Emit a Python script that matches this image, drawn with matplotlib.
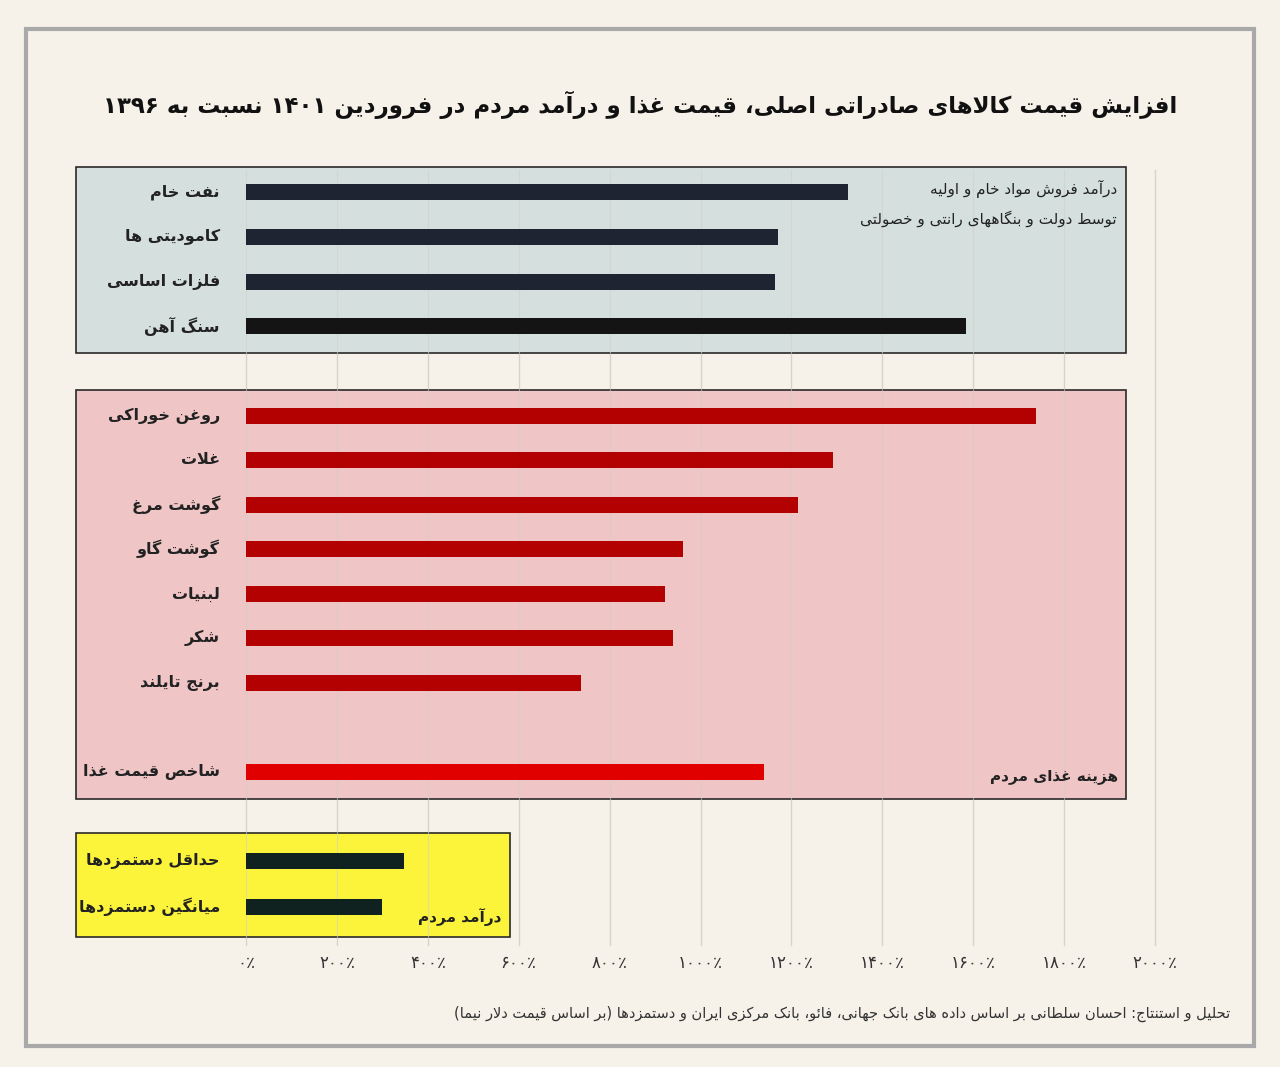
import matplotlib
matplotlib.use("Agg")
import matplotlib.pyplot as plt
from matplotlib.patches import Rectangle

# --- minimal Persian shaping (presentation forms + RTL order) ---
FORMS = {  # iso, fin, ini, med
    'ء': ('\uFE80', None, None, None),
    'آ': ('\uFE81', '\uFE82', None, None),
    'ا': ('\uFE8D', '\uFE8E', None, None),
    'ئ': ('\uFE89', '\uFE8A', '\uFE8B', '\uFE8C'),
    'ب': ('\uFE8F', '\uFE90', '\uFE91', '\uFE92'),
    'پ': ('\uFB56', '\uFB57', '\uFB58', '\uFB59'),
    'ت': ('\uFE95', '\uFE96', '\uFE97', '\uFE98'),
    'ث': ('\uFE99', '\uFE9A', '\uFE9B', '\uFE9C'),
    'ج': ('\uFE9D', '\uFE9E', '\uFE9F', '\uFEA0'),
    'چ': ('\uFB7A', '\uFB7B', '\uFB7C', '\uFB7D'),
    'ح': ('\uFEA1', '\uFEA2', '\uFEA3', '\uFEA4'),
    'خ': ('\uFEA5', '\uFEA6', '\uFEA7', '\uFEA8'),
    'د': ('\uFEA9', '\uFEAA', None, None),
    'ذ': ('\uFEAB', '\uFEAC', None, None),
    'ر': ('\uFEAD', '\uFEAE', None, None),
    'ز': ('\uFEAF', '\uFEB0', None, None),
    'ژ': ('\uFB8A', '\uFB8B', None, None),
    'س': ('\uFEB1', '\uFEB2', '\uFEB3', '\uFEB4'),
    'ش': ('\uFEB5', '\uFEB6', '\uFEB7', '\uFEB8'),
    'ص': ('\uFEB9', '\uFEBA', '\uFEBB', '\uFEBC'),
    'ض': ('\uFEBD', '\uFEBE', '\uFEBF', '\uFEC0'),
    'ط': ('\uFEC1', '\uFEC2', '\uFEC3', '\uFEC4'),
    'ظ': ('\uFEC5', '\uFEC6', '\uFEC7', '\uFEC8'),
    'ع': ('\uFEC9', '\uFECA', '\uFECB', '\uFECC'),
    'غ': ('\uFECD', '\uFECE', '\uFECF', '\uFED0'),
    'ف': ('\uFED1', '\uFED2', '\uFED3', '\uFED4'),
    'ق': ('\uFED5', '\uFED6', '\uFED7', '\uFED8'),
    'ک': ('\uFB8E', '\uFB8F', '\uFB90', '\uFB91'),
    'گ': ('\uFB92', '\uFB93', '\uFB94', '\uFB95'),
    'ل': ('\uFEDD', '\uFEDE', '\uFEDF', '\uFEE0'),
    'م': ('\uFEE1', '\uFEE2', '\uFEE3', '\uFEE4'),
    'ن': ('\uFEE5', '\uFEE6', '\uFEE7', '\uFEE8'),
    'و': ('\uFEED', '\uFEEE', None, None),
    'ه': ('\uFEE9', '\uFEEA', '\uFEEB', '\uFEEC'),
    'ی': ('\uFBFC', '\uFBFD', '\uFBFE', '\uFBFF'),
}
LAMALEF = {'ا': ('\uFEFB', '\uFEFC'), 'آ': ('\uFEF5', '\uFEF6')}


def dual(c):
    return c in FORMS and FORMS[c][2] is not None


def fa(s):
    out = []
    i = 0
    n = len(s)
    while i < n:
        c = s[i]
        if c not in FORMS:
            if c != '\u200c':
                out.append(c)
            i += 1
            continue
        prev = s[i - 1] if i > 0 else ''
        jp = dual(prev)
        if c == 'ل' and i + 1 < n and s[i + 1] in LAMALEF:
            out.append(LAMALEF[s[i + 1]][1 if jp else 0])
            i += 2
            continue
        nxt = s[i + 1] if i + 1 < n else ''
        jn = dual(c) and nxt in FORMS
        f = FORMS[c]
        if jp and jn:
            g = f[3]
        elif jp:
            g = f[1] or f[0]
        elif jn:
            g = f[2]
        else:
            g = f[0]
        out.append(g)
        i += 1
    # reverse for RTL, keep digit runs in order, mirror brackets
    r = out[::-1]
    mirror = {'(': ')', ')': '('}
    r = [mirror.get(c, c) for c in r]
    res, run = [], []
    for c in r:
        if c.isdigit():
            run.append(c)
        else:
            res.extend(run[::-1]); run = []
            res.append(c)
    res.extend(run[::-1])
    return ''.join(res)


# --- data ---
group_raw = ['نفت خام', 'کامودیتی ها', 'فلزات اساسی', 'سنگ آهن']
raw_vals = [1324, 1170, 1164, 1584]
group_food = ['روغن خوراکی', 'غلات', 'گوشت مرغ', 'گوشت گاو', 'لبنیات', 'شکر', 'برنج تایلند']
food_vals = [1738, 1291, 1214, 961, 922, 939, 737]
index_label = ['شاخص قیمت غذا']
index_vals = [1140]
group_wage = ['حداقل دستمزدها', 'میانگین دستمزدها']
wage_vals = [348, 299]
tick_vals = [0, 200, 400, 600, 800, 1000, 1200, 1400, 1600, 1800, 2000]
tick_labels = ['٪۰', '٪۲۰۰', '٪۴۰۰', '٪۶۰۰', '٪۸۰۰', '٪۱۰۰۰', '٪۱۲۰۰', '٪۱۴۰۰', '٪۱۶۰۰', '٪۱۸۰۰', '٪۲۰۰۰']
tick_labels = [t[1:] + t[0] for t in tick_labels]

FONT = 'DejaVu Sans'
plt.rcParams['font.family'] = FONT

fig = plt.figure(figsize=(12.8, 10.67), dpi=100)
fig.patch.set_facecolor('#f6f2ea')
ax = fig.add_axes([0, 0, 1, 1])
ax.set_facecolor('#f6f2ea')
k = 909 / 2000.0
X0 = 246


def dx(px):
    return (px - X0) / k


ax.set_xlim(dx(0), dx(1280))
ax.set_ylim(1067, 0)
ax.axis('off')

# outer frame
ax.add_patch(Rectangle((dx(26), 29), dx(1254) - dx(26), 1017, fill=False, ec='#a9a9a9', lw=3))

# grid
for v in tick_vals:
    ax.plot([v, v], [170, 945], color='#dedbd3', lw=1, zorder=1)

# boxes
boxes = [(76, 167, 1126, 353, '#d5dfdd'), (76, 390, 1126, 799, '#efc5c6'), (76, 833, 510, 937, '#fbf43a')]
for x1, y1, x2, y2, fc in boxes:
    ax.add_patch(Rectangle((dx(x1), y1), dx(x2) - dx(x1), y2 - y1, fc=fc, ec='#2a2a2a', lw=1.2, zorder=2))
for v in tick_vals:
    ax.plot([v, v], [170, 945], color='#d2cfc8', lw=0.8, zorder=2.5, alpha=0.6)

h = 16
rows = [
    (group_raw, raw_vals, [192, 237, 282, 326], ['#1f2432', '#1f2432', '#1f2432', '#141414']),
    (group_food, food_vals, [416, 460, 505, 549, 594, 638, 683], ['#b30000'] * 7),
    (index_label, index_vals, [772], ['#e10000']),
    (group_wage, wage_vals, [861, 907], ['#0f2220', '#0f2220']),
]
for labels, vals, ys, cols in rows:
    ax.barh(ys, vals, height=h, color=cols, zorder=3)
    for lab, y in zip(labels, ys):
        ax.text(dx(220), y, fa(lab), ha='right', va='center', fontsize=11.5,
                fontweight='bold', color='#222222', zorder=4)

for v, t in zip(tick_vals, tick_labels):
    ax.text(v, 963, t, ha='center', va='center', fontsize=12, color='#333333')

ax.text(dx(640), 105, fa('افزایش قیمت کالاهای صادراتی اصلی، قیمت غذا و درآمد مردم در فروردین ۱۴۰۱ نسبت به ۱۳۹۶'),
        ha='center', va='center', fontsize=16.5, fontweight='bold', color='#111111')
ax.text(dx(1117), 189, fa('درآمد فروش مواد خام و اولیه'), ha='right', va='center', fontsize=11, color='#222222', zorder=4)
ax.text(dx(1117), 219, fa('توسط دولت و بنگاههای رانتی و خصولتی'), ha='right', va='center', fontsize=11, color='#222222', zorder=4)
ax.text(dx(1118), 777, fa('هزینه غذای مردم'), ha='right', va='center', fontsize=11, fontweight='bold', color='#222222', zorder=4)
ax.text(dx(502), 917, fa('درآمد مردم'), ha='right', va='center', fontsize=11, fontweight='bold', color='#222222', zorder=4)
ax.text(dx(1230), 1014, fa('تحلیل و استنتاج: احسان سلطانی بر اساس داده های بانک جهانی، فائو، بانک مرکزی ایران و دستمزدها (بر اساس قیمت دلار نیما)'),
        ha='right', va='center', fontsize=10.5, color='#333333')

fig.savefig('out.png', dpi=100, facecolor=fig.get_facecolor())
